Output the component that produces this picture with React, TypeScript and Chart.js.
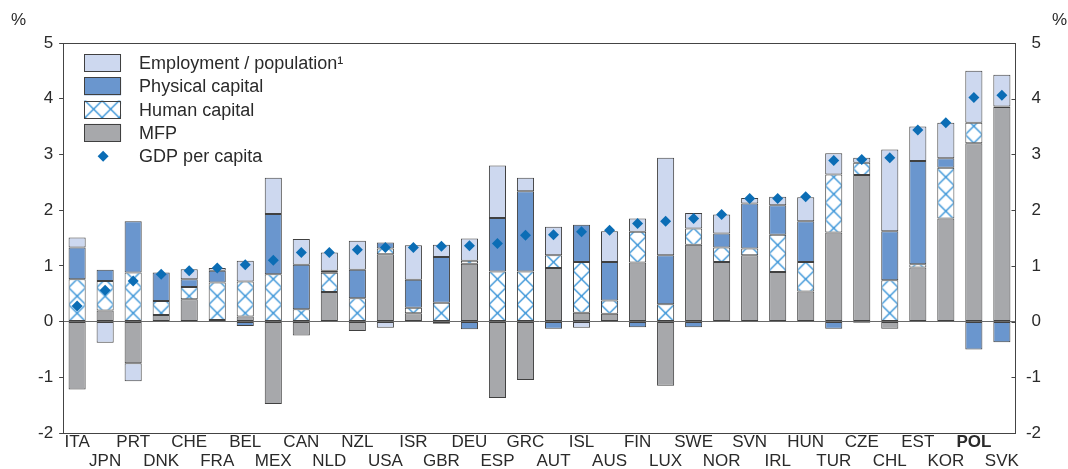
import React, { useEffect, useRef } from 'react';
import { Chart, registerables } from 'chart.js';

Chart.register(...registerables);

const categories = [
  'ITA', 'JPN', 'PRT', 'DNK', 'CHE', 'FRA', 'BEL', 'MEX', 'CAN', 'NLD', 'NZL', 'USA',
  'ISR', 'GBR', 'DEU', 'ESP', 'GRC', 'AUT', 'ISL', 'AUS', 'FIN', 'LUX', 'SWE', 'NOR',
  'SVN', 'IRL', 'HUN', 'TUR', 'CZE', 'CHL', 'EST', 'KOR', 'POL', 'SVK',
];
const mfp = [
  -1.22, 0.2, -0.75, 0.12, 0.4, 0.03, 0.09, -1.48, -0.25, 0.53, -0.17, 1.21,
  0.15, -0.04, 1.04, -1.37, -1.05, 0.96, 0.16, 0.14, 1.06, -1.15, 1.38, 1.07,
  1.19, 0.89, 0.54, 1.6, 2.63, -0.13, 0.97, 1.85, 3.2, 3.85,
];
const humanCapital = [
  0.76, 0.53, 0.88, 0.25, 0.22, 0.67, 0.63, 0.85, 0.22, 0.345, 0.42, 0.1,
  0.1, 0.34, 0.05, 0.9, 0.9, 0.23, 0.91, 0.24, 0.55, 0.31, 0.29, 0.26,
  0.12, 0.67, 0.53, 1.04, 0.22, 0.74, 0.06, 0.91, 0.37, 0.01,
];
const physicalCapital = [
  0.57, 0.2, 0.92, 0.51, 0.14, 0.21, -0.08, 1.08, 0.8, 0.035, 0.51, 0.11,
  0.5, 0.82, -0.14, 0.96, 1.44, -0.13, 0.67, 0.69, -0.1, 0.88, -0.1, 0.25,
  0.81, 0.53, 0.73, -0.13, -0.02, 0.88, 1.85, 0.17, -0.5, -0.37,
];
const employment = [
  0.18, -0.38, -0.32, null, 0.18, 0.05, 0.37, 0.65, 0.46, 0.33, 0.52, -0.11,
  0.62, 0.22, 0.4, 0.94, 0.24, 0.51, -0.11, 0.55, 0.24, 1.75, 0.28, 0.34,
  0.1, 0.15, 0.43, 0.38, 0.09, 1.47, 0.62, 0.64, 0.93, 0.57,
];
const gdpPerCapita = [
  0.28, 0.56, 0.73, 0.85, 0.91, 0.96, 1.02, 1.1, 1.24, 1.24, 1.29, 1.33,
  1.33, 1.35, 1.36, 1.4, 1.55, 1.56, 1.61, 1.64, 1.76, 1.8, 1.85, 1.92,
  2.21, 2.21, 2.24, 2.89, 2.91, 2.94, 3.44, 3.57, 4.02, 4.06,
];
const yTicks = [-2, -1, 0, 1, 2, 3, 4, 5];
const legendLabels = ['Employment / population¹', 'Physical capital', 'Human capital', 'MFP', 'GDP per capita'];
const boldCategory = 'POL';
const unitLabel = '%';

const C_EMP = '#cdd8ef';
const C_PHYS = '#6a96ce';
const C_MFP = '#a7a8ab';
const C_HATCH = '#2f8fd6';
const C_DIAMOND = '#0b6db5';
const C_BORDER = '#404040';
const C_TEXT = '#2a2a2a';
const FONT = "'Liberation Sans', Arial, Helvetica, sans-serif";
const BAR_PCT = 0.61;
const TILE = 17;

let tileCanvas: HTMLCanvasElement | null = null;
function getTile(): HTMLCanvasElement {
  if (tileCanvas) return tileCanvas;
  const c = document.createElement('canvas');
  c.width = TILE;
  c.height = TILE;
  const g = c.getContext('2d')!;
  g.fillStyle = '#ffffff';
  g.fillRect(0, 0, TILE, TILE);
  g.strokeStyle = C_HATCH;
  g.lineWidth = 1.3;
  g.beginPath();
  g.moveTo(-1, -1);
  g.lineTo(TILE + 1, TILE + 1);
  g.moveTo(TILE + 1, -1);
  g.lineTo(-1, TILE + 1);
  g.stroke();
  tileCanvas = c;
  return c;
}
function hatch(ctx: CanvasRenderingContext2D, x: number, y: number): CanvasPattern | string {
  const p = ctx.createPattern(getTile(), 'repeat');
  if (!p) return '#ffffff';
  try {
    p.setTransform(new DOMMatrix().translateSelf(x, y));
  } catch (e) {}
  return p;
}

const frameAndLegend = {
  id: 'frameAndLegend',
  afterDatasetsDraw(chart: any) {
    const { ctx, chartArea } = chart;
    const { left, top, right, bottom } = chartArea;
    ctx.save();
    ctx.strokeStyle = '#444444';
    ctx.lineWidth = 1;
    const rl = Math.round(left) + 0.5;
    const rr = Math.round(left) + Math.round(right - left) - 0.5;
    ctx.strokeRect(rl, Math.round(top) + 0.5, rr - rl, Math.round(bottom - top));

    // inward tick marks on the right axis
    const y2 = chart.scales.y2;
    ctx.beginPath();
    for (const v of yTicks) {
      const py = Math.round(y2.getPixelForValue(v)) + 0.5;
      ctx.moveTo(rr - 4, py);
      ctx.lineTo(rr, py);
    }
    ctx.stroke();

    // legend
    const bx = left + 21;
    const by = top + 11;
    const pitch = 23.3;
    const bw = 37;
    const bh = 18;
    const fills: any[] = [C_EMP, C_PHYS, 'hatch', C_MFP];
    ctx.font = `18px ${FONT}`;
    ctx.textBaseline = 'middle';
    ctx.textAlign = 'left';
    for (let i = 0; i < legendLabels.length; i++) {
      const cy = by + bh / 2 + i * pitch;
      if (i < 4) {
        const y0 = cy - bh / 2;
        ctx.fillStyle = fills[i] === 'hatch' ? hatch(ctx, bx + 1, y0) : fills[i];
        ctx.fillRect(bx, y0, bw, bh);
        ctx.strokeStyle = C_BORDER;
        ctx.strokeRect(Math.round(bx) + 0.5, Math.round(y0) + 0.5, bw - 1, bh - 1);
      } else {
        const cx = bx + 19;
        const r = 5.5;
        ctx.fillStyle = C_DIAMOND;
        ctx.beginPath();
        ctx.moveTo(cx, cy - r);
        ctx.lineTo(cx + r, cy);
        ctx.lineTo(cx, cy + r);
        ctx.lineTo(cx - r, cy);
        ctx.closePath();
        ctx.fill();
      }
      ctx.fillStyle = C_TEXT;
      ctx.fillText(legendLabels[i], bx + 55, cy + 1);
    }

    // unit labels
    ctx.font = `17px ${FONT}`;
    ctx.fillStyle = C_TEXT;
    ctx.textAlign = 'left';
    ctx.fillText(unitLabel, 11, 20);
    ctx.fillText(unitLabel, 1052, 20);
    ctx.restore();
  },
};

function hatchScript(c: any) {
  const chart = c.chart;
  const xs = chart.scales && chart.scales.x;
  const ys = chart.scales && chart.scales.y;
  if (!xs || !ys || c.type !== 'data' || !chart.chartArea) return hatch(chart.ctx, 0, 0);
  const step = xs.getPixelForValue(1) - xs.getPixelForValue(0);
  const bw = step * BAR_PCT;
  const left = xs.getPixelForValue(c.dataIndex) - bw / 2;
  return hatch(chart.ctx, left, ys.getPixelForValue(0));
}

export default function App() {
  const ref = useRef<HTMLCanvasElement | null>(null);
  useEffect(() => {
    if (!ref.current) return;
    const labels = categories.map((c, i) => (i % 2 === 0 ? c : ['', c]));
    const barCommon = {
      type: 'bar' as const,
      stack: 'bars',
      borderColor: C_BORDER,
      borderWidth: 1,
      borderSkipped: false,
      barPercentage: BAR_PCT,
      categoryPercentage: 1,
      order: 1,
      yAxisID: 'y',
    };
    const chart = new Chart(ref.current, {
      type: 'bar',
      data: {
        labels,
        datasets: [
          {
            type: 'line',
            label: legendLabels[4],
            data: gdpPerCapita,
            showLine: false,
            pointStyle: 'rectRot',
            pointRadius: 5.5,
            pointBackgroundColor: C_DIAMOND,
            pointBorderWidth: 0,
            pointBorderColor: C_DIAMOND,
            stack: 'gdp',
            order: 0,
            yAxisID: 'y',
          } as any,
          { ...barCommon, label: legendLabels[3], data: mfp, backgroundColor: C_MFP } as any,
          { ...barCommon, label: legendLabels[2], data: humanCapital, backgroundColor: hatchScript } as any,
          { ...barCommon, label: legendLabels[1], data: physicalCapital, backgroundColor: C_PHYS } as any,
          { ...barCommon, label: legendLabels[0], data: employment, backgroundColor: C_EMP } as any,
        ],
      },
      options: {
        animation: false,
        responsive: true,
        maintainAspectRatio: false,
        events: [],
        layout: { padding: { left: 32, right: 27, top: 43, bottom: 0 } },
        plugins: { legend: { display: false }, tooltip: { enabled: false } },
        scales: {
          x: {
            stacked: true,
            offset: true,
            grid: { display: false, drawTicks: false },
            border: { display: false },
            ticks: {
              autoSkip: false,
              maxRotation: 0,
              minRotation: 0,
              padding: 0,
              color: C_TEXT,
              font: (c: any) => ({
                family: FONT,
                size: 17,
                lineHeight: 19 / 17,
                weight: categories[c.index] === boldCategory ? 'bold' : 'normal',
              }),
            },
          },
          y: {
            stacked: true,
            position: 'left',
            min: yTicks[0],
            max: yTicks[yTicks.length - 1],
            afterBuildTicks: (s: any) => {
              s.ticks = yTicks.map((v) => ({ value: v }));
            },
            grid: {
              color: (c: any) => (c.tick && c.tick.value === 0 ? '#6a6a6a' : 'rgba(0,0,0,0)'),
              tickColor: '#444444',
              tickLength: 4,
              lineWidth: 1,
            },
            border: { display: false },
            ticks: { padding: 6, color: C_TEXT, font: { family: FONT, size: 17 } },
          },
          y2: {
            position: 'right',
            min: yTicks[0],
            max: yTicks[yTicks.length - 1],
            afterBuildTicks: (s: any) => {
              s.ticks = yTicks.map((v) => ({ value: v }));
            },
            grid: { display: false, drawTicks: false },
            border: { display: false },
            ticks: { padding: 5, color: C_TEXT, crossAlign: 'far', font: { family: FONT, size: 17 } },
          },
        },
      } as any,
      plugins: [frameAndLegend],
    });
    return () => chart.destroy();
  }, []);

  return (
    <div style={{ position: 'absolute', left: 0, top: 0, width: 1068, height: 469, overflow: 'hidden', background: '#fff' }}>
      <div style={{ position: 'relative', width: 1068, height: 471 }}>
        <canvas ref={ref} style={{ display: 'block' }} />
      </div>
    </div>
  );
}
